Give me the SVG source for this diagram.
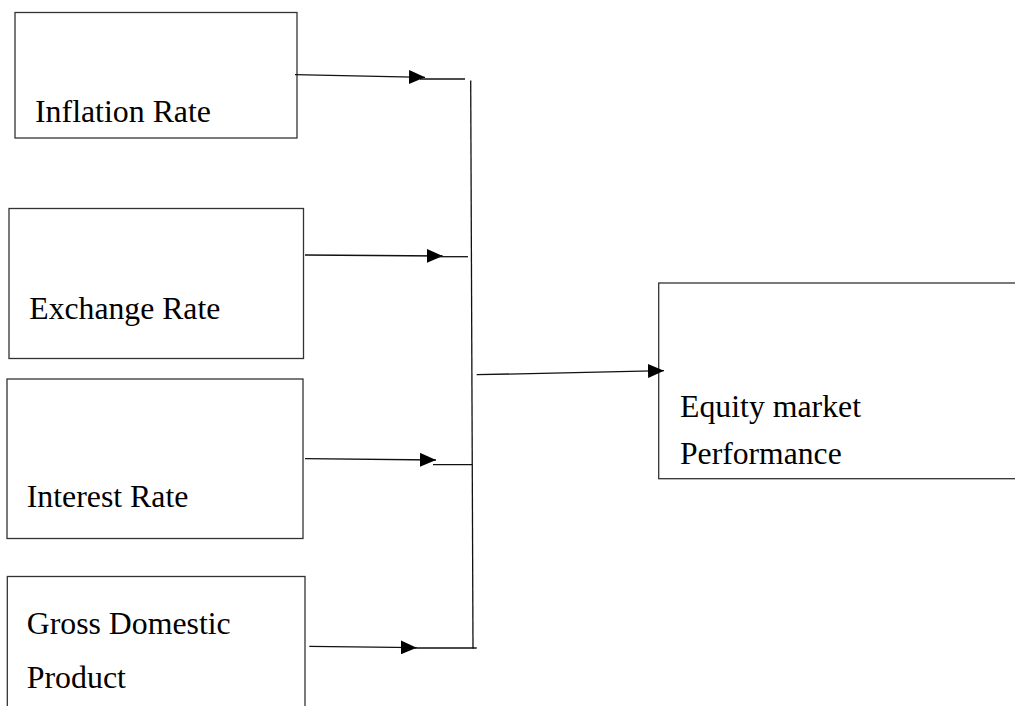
<svg xmlns="http://www.w3.org/2000/svg" width="1015" height="706" viewBox="0 0 1015 706">
<defs>
<style>
.box{fill:#fff;stroke:#333;stroke-width:1.3}
.lbl{font-family:"Liberation Serif","Times New Roman",serif;font-size:31px;fill:#000}
.ln{stroke:#111;stroke-width:1.3;fill:none}
</style>
<marker id="ah" markerUnits="userSpaceOnUse" markerWidth="16" markerHeight="14" refX="16" refY="7" orient="auto">
<path d="M0,0 L16,7 L0,14 Z" fill="#000"/>
</marker>
</defs>
<rect width="1015" height="706" fill="#fff"/>
<g id="inflation">
<rect class="box" x="15" y="12.5" width="282" height="125.5"/>
<text class="lbl" x="35" y="121.7" textLength="176" lengthAdjust="spacingAndGlyphs">Inflation Rate</text>
</g>
<g id="exchange">
<rect class="box" x="9" y="208.5" width="294.5" height="150"/>
<text class="lbl" x="29.3" y="319" textLength="191" lengthAdjust="spacingAndGlyphs">Exchange Rate</text>
</g>
<g id="interest">
<rect class="box" x="7" y="379" width="296" height="159.5"/>
<text class="lbl" x="26.7" y="506.7" textLength="161.7" lengthAdjust="spacingAndGlyphs">Interest Rate</text>
</g>
<g id="gdp">
<rect class="box" x="7.3" y="576.5" width="297.7" height="140"/>
<text class="lbl" x="26.7" y="634" textLength="204" lengthAdjust="spacingAndGlyphs">Gross Domestic</text>
<text class="lbl" x="26.7" y="688.3" textLength="99.3" lengthAdjust="spacingAndGlyphs">Product</text>
</g>
<g id="equity">
<rect class="box" x="658.7" y="283" width="370" height="195.7"/>
<text class="lbl" x="680" y="416.7" textLength="181" lengthAdjust="spacingAndGlyphs">Equity market</text>
<text class="lbl" x="680" y="464" textLength="161.7" lengthAdjust="spacingAndGlyphs">Performance</text>
</g>
<g id="connectors">
<line class="ln" x1="295" y1="74.7" x2="425" y2="77.3" marker-end="url(#ah)"/>
<line class="ln" x1="420" y1="79" x2="465" y2="79"/>
<line class="ln" x1="305" y1="255" x2="442.7" y2="256" marker-end="url(#ah)"/>
<line class="ln" x1="438" y1="256.7" x2="468" y2="256.7"/>
<line class="ln" x1="305" y1="458.7" x2="436" y2="460" marker-end="url(#ah)"/>
<line class="ln" x1="433" y1="464.7" x2="472.7" y2="464.7"/>
<line class="ln" x1="309.3" y1="646.3" x2="416.7" y2="647.7" marker-end="url(#ah)"/>
<line class="ln" x1="413" y1="648" x2="476.7" y2="648"/>
<line class="ln" x1="470.7" y1="80.5" x2="473" y2="648.5"/>
<line class="ln" x1="476.7" y1="374.7" x2="664" y2="370.7" marker-end="url(#ah)"/>
</g>
</svg>
